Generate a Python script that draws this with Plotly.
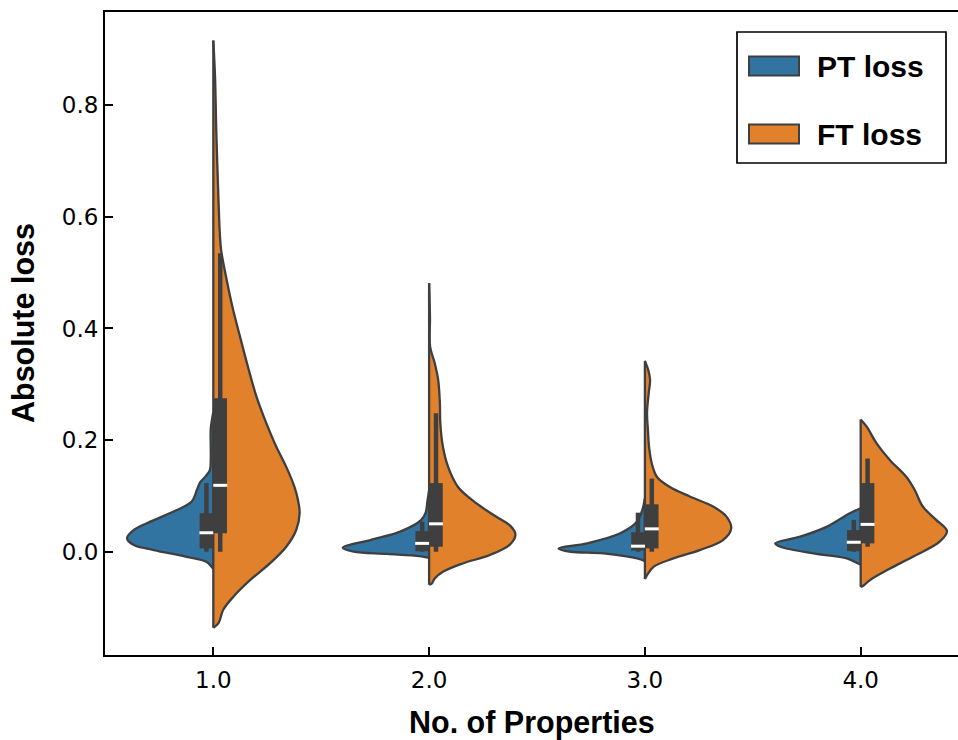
import plotly.graph_objects as go

# ---------------------------------------------------------------
# Data
# ---------------------------------------------------------------
categories = [1.0, 2.0, 3.0, 4.0]
x_tick_text = ["1.0", "2.0", "3.0", "4.0"]
y_ticks = [0.0, 0.2, 0.4, 0.6, 0.8]
y_tick_text = ["0.0", "0.2", "0.4", "0.6", "0.8"]
series_names = ["PT loss", "FT loss"]

# Kernel-density outline of every half violin:
# loss level (top to bottom) and relative density (peak of each half = 1)
pt1_loss = [0.25, 0.22, 0.19, 0.165, 0.146, 0.135, 0.125, 0.111, 0.090, 0.072,
            0.054, 0.039, 0.024, 0.012, 0.003, -0.009, -0.018, -0.027, -0.031]
pt1_dens = [0.0, 0.03, 0.03, 0.03, 0.04, 0.09, 0.15, 0.19, 0.25, 0.46,
            0.73, 0.92, 1.0, 0.92, 0.69, 0.31, 0.08, 0.02, 0.0]

ft1_loss = [0.916, 0.85, 0.75, 0.63, 0.571, 0.541, 0.487, 0.433, 0.385, 0.332,
            0.278, 0.230, 0.188, 0.152, 0.116, 0.093, 0.069, 0.039, 0.009,
            -0.021, -0.051, -0.081, -0.104, -0.128, -0.136]
ft1_dens = [0.0, 0.02, 0.035, 0.06, 0.075, 0.09, 0.155, 0.23, 0.31, 0.40,
            0.50, 0.615, 0.73, 0.845, 0.94, 0.98, 1.0, 0.96, 0.845,
            0.655, 0.425, 0.23, 0.115, 0.06, 0.0]

pt2_loss = [0.11, 0.09, 0.07, 0.057, 0.036, 0.021, 0.007, 0.0, -0.004, -0.008, -0.011]
pt2_dens = [0.0, 0.02, 0.04, 0.09, 0.335, 0.68, 1.0, 0.875, 0.49, 0.11, 0.0]

ft2_loss = [0.481, 0.42, 0.367, 0.338, 0.308, 0.266, 0.230, 0.188, 0.152, 0.116,
            0.087, 0.063, 0.045, 0.030, 0.012, -0.006, -0.021, -0.036, -0.048,
            -0.057, -0.059]
ft2_dens = [0.0, 0.01, 0.012, 0.065, 0.105, 0.125, 0.13, 0.16, 0.22, 0.335,
            0.545, 0.775, 0.95, 1.0, 0.93, 0.70, 0.39, 0.16, 0.065,
            0.03, 0.0]

pt3_loss = [0.095, 0.075, 0.054, 0.033, 0.015, 0.006, 0.0, -0.003, -0.012, -0.017]
pt3_dens = [0.0, 0.03, 0.09, 0.285, 0.67, 1.0, 0.86, 0.48, 0.09, 0.0]

ft3_loss = [0.342, 0.325, 0.308, 0.285, 0.249, 0.218, 0.185, 0.158, 0.134, 0.116,
            0.099, 0.081, 0.063, 0.042, 0.021, 0.003, -0.012, -0.027,
            -0.042, -0.049]
ft3_dens = [0.0, 0.04, 0.06, 0.045, 0.025, 0.035, 0.05, 0.08, 0.14, 0.29,
            0.52, 0.79, 0.945, 1.0, 0.905, 0.635, 0.33, 0.10,
            0.025, 0.0]

pt4_loss = [0.078, 0.069, 0.045, 0.027, 0.015, 0.009, -0.003, -0.012, -0.021, -0.023]
pt4_dens = [0.0, 0.125, 0.39, 0.70, 0.99, 0.93, 0.545, 0.16, 0.03, 0.0]

ft4_loss = [0.237, 0.224, 0.194, 0.164, 0.134, 0.111, 0.081, 0.057, 0.037,
            0.018, -0.009, -0.030, -0.051, -0.061, -0.063]
ft4_dens = [0.0, 0.07, 0.185, 0.34, 0.53, 0.625, 0.72, 0.875, 1.0,
            0.915, 0.605, 0.34, 0.105, 0.03, 0.0]

pt_loss_levels = [pt1_loss, pt2_loss, pt3_loss, pt4_loss]
pt_densities = [pt1_dens, pt2_dens, pt3_dens, pt4_dens]
ft_loss_levels = [ft1_loss, ft2_loss, ft3_loss, ft4_loss]
ft_densities = [ft1_dens, ft2_dens, ft3_dens, ft4_dens]

# Box statistics (whisker low, Q1, median, Q3, whisker high)
pt_whislo = [0.0, 0.0, 0.0, 0.0]
pt_q1 = [0.006, 0.001, 0.002, 0.001]
pt_median = [0.034, 0.015, 0.010, 0.017]
pt_q3 = [0.069, 0.037, 0.035, 0.039]
pt_whishi = [0.123, 0.054, 0.070, 0.057]

ft_whislo = [0.0, 0.0, 0.0, 0.009]
ft_q1 = [0.033, 0.009, 0.006, 0.015]
ft_median = [0.119, 0.050, 0.041, 0.049]
ft_q3 = [0.275, 0.123, 0.085, 0.123]
ft_whishi = [0.535, 0.248, 0.131, 0.167]

# ---------------------------------------------------------------
# Style
# ---------------------------------------------------------------
BLUE = "#3274a1"
ORANGE = "#e1812c"
EDGE = "#3f3f3f"
HALF_WIDTH = 0.4      # half of the violin width, in category units
BOX_OFFSET = 0.032    # inner box sits beside the split line
TICK_FONT = dict(family="DejaVu Sans", size=23, color="black")
BOLD_FONT = "Liberation Sans, Arial, sans-serif"

W, H = 958, 740
ML, MR, MT, MB = 105, 0, 12, 85
PW, PH = W - ML - MR, H - MT - MB


def px_x(p):
    return (p - ML) / PW


def px_y(p):
    return (H - MB - p) / PH


fig = go.Figure()

sides = [
    (-1, BLUE, pt_loss_levels, pt_densities),
    (1, ORANGE, ft_loss_levels, ft_densities),
]

# Violin halves
for sign, color, levels, dens in sides:
    for c, lv, dv in zip(categories, levels, dens):
        xs = [c + sign * d * HALF_WIDTH for d in dv]
        fig.add_trace(go.Scatter(
            x=xs, y=lv, mode="lines", fill="toself", fillcolor=color,
            line=dict(color=EDGE, width=2.3, shape="spline", smoothing=1.0),
            hoverinfo="skip", showlegend=False))
        fig.add_trace(go.Scatter(
            x=[c, c], y=[min(lv), max(lv)], mode="lines",
            line=dict(color=EDGE, width=2.3),
            hoverinfo="skip", showlegend=False))

# Inner boxes
box_sets = [
    (-1, pt_whislo, pt_q1, pt_median, pt_q3, pt_whishi),
    (1, ft_whislo, ft_q1, ft_median, ft_q3, ft_whishi),
]
for sign, wlo, q1, med, q3, whi in box_sets:
    for i, c in enumerate(categories):
        xb = c + sign * BOX_OFFSET
        fig.add_trace(go.Scatter(
            x=[xb, xb], y=[wlo[i], whi[i]], mode="lines",
            line=dict(color=EDGE, width=4.5),
            hoverinfo="skip", showlegend=False))
        fig.add_trace(go.Scatter(
            x=[xb, xb], y=[q1[i], q3[i]], mode="lines",
            line=dict(color=EDGE, width=13.5),
            hoverinfo="skip", showlegend=False))
        fig.add_trace(go.Scatter(
            x=[xb], y=[med[i]], mode="markers",
            marker=dict(symbol="line-ew", size=10,
                        line=dict(color="white", width=3)),
            hoverinfo="skip", showlegend=False))

# Legend box drawn in paper space
shapes = [dict(type="rect", xref="paper", yref="paper",
               x0=px_x(737), x1=px_x(946), y0=px_y(163), y1=px_y(32),
               line=dict(color="black", width=1.7), fillcolor="white",
               layer="above")]
annotations = []
for name, color, yc in zip(series_names, [BLUE, ORANGE], [66, 134]):
    shapes.append(dict(type="rect", xref="paper", yref="paper",
                       x0=px_x(749), x1=px_x(799),
                       y0=px_y(yc + 9.5), y1=px_y(yc - 9.5),
                       line=dict(color=EDGE, width=2), fillcolor=color,
                       layer="above"))
    annotations.append(dict(xref="paper", yref="paper", x=px_x(815),
                            y=px_y(yc), xanchor="left", yanchor="middle",
                            text="<b>%s</b>" % name, showarrow=False,
                            font=dict(family=BOLD_FONT, size=30, color="black")))

# Axis titles
annotations.append(dict(xref="paper", yref="paper", x=0.5, y=px_y(722),
                        xanchor="center", yanchor="middle",
                        text="<b>No. of Properties</b>", showarrow=False,
                        font=dict(family=BOLD_FONT, size=30.5, color="black")))
annotations.append(dict(xref="paper", yref="paper", x=px_x(23), y=px_y(323),
                        xanchor="center", yanchor="middle", textangle=-90,
                        text="<b>Absolute loss</b>", showarrow=False,
                        font=dict(family=BOLD_FONT, size=30.5, color="black")))

fig.update_layout(
    width=W, height=H,
    margin=dict(l=ML, r=MR, t=MT, b=MB, pad=0),
    paper_bgcolor="white", plot_bgcolor="white",
    showlegend=False,
    shapes=shapes, annotations=annotations,
    xaxis=dict(range=[0.498, 4.451], tickvals=categories, ticktext=x_tick_text,
               ticks="inside", ticklen=8, tickwidth=2, tickcolor="black",
               showline=True, linecolor="black", linewidth=2, mirror=True,
               showgrid=False, zeroline=False, tickfont=TICK_FONT,
               ticklabelstandoff=3),
    yaxis=dict(range=[-0.185, 0.967], tickvals=y_ticks, ticktext=y_tick_text,
               ticks="inside", ticklen=8, tickwidth=2, tickcolor="black",
               showline=True, linecolor="black", linewidth=2, mirror=False,
               showgrid=False, zeroline=False, tickfont=TICK_FONT),
)

fig.write_html("out.html")
